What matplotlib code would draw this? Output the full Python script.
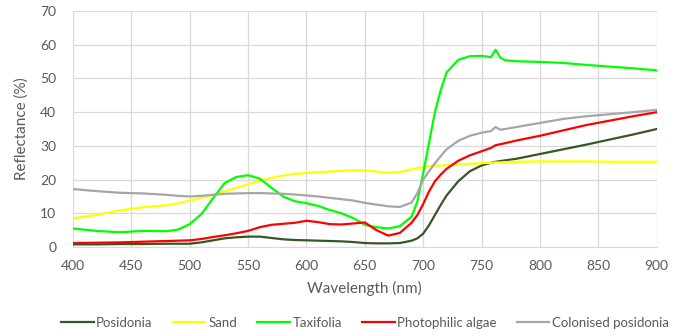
import matplotlib.pyplot as plt

wl = [400, 420, 440, 460, 480, 490, 500, 510, 520, 530, 540, 550, 560, 570, 580, 590,
      600, 610, 620, 630, 640, 650, 660, 670, 680, 690, 695, 700, 705, 710, 715, 720,
      730, 740, 750, 758, 762, 766, 770, 780, 800, 820, 840, 860, 880, 900]

posidonia = [0.8, 0.8, 0.9, 0.9, 1.0, 1.0, 1.0, 1.4, 2.0, 2.6, 2.9, 3.1, 3.1, 2.7, 2.3, 2.1,
             2.0, 1.9, 1.8, 1.7, 1.5, 1.2, 1.1, 1.1, 1.2, 1.9, 2.6, 4.0, 6.5, 9.5, 12.5, 15.3,
             19.5, 22.5, 24.2, 25.0, 25.3, 25.5, 25.7, 26.2, 27.6, 29.0, 30.4, 31.9, 33.4, 35.0]

sand = [8.5, 9.5, 10.9, 11.8, 12.4, 13.0, 13.8, 14.6, 15.5, 16.5, 17.6, 18.6, 19.7, 20.5, 21.2, 21.7,
        22.0, 22.2, 22.4, 22.6, 22.8, 22.8, 22.4, 22.0, 22.3, 23.0, 23.4, 23.8, 24.0, 24.1, 24.2, 24.3,
        24.5, 24.7, 24.9, 25.0, 25.1, 25.1, 25.2, 25.3, 25.4, 25.4, 25.4, 25.3, 25.3, 25.3]

taxifolia = [5.5, 4.8, 4.4, 4.8, 4.7, 5.2, 6.8, 9.8, 14.5, 19.0, 20.8, 21.3, 20.3, 17.6, 15.0, 13.6,
             13.0, 12.2, 11.0, 10.0, 8.6, 6.6, 5.9, 5.5, 6.2, 9.0, 13.5, 22.0, 31.0, 40.0, 46.5, 51.8,
             55.5, 56.6, 56.7, 56.3, 58.5, 56.2, 55.4, 55.1, 54.9, 54.6, 54.0, 53.5, 53.0, 52.4]

photophilic = [1.2, 1.3, 1.4, 1.6, 1.8, 1.9, 2.0, 2.4, 3.0, 3.5, 4.1, 4.8, 5.9, 6.6, 6.9, 7.2,
               7.8, 7.4, 6.8, 6.7, 7.0, 7.3, 5.0, 3.4, 4.2, 7.2, 9.5, 12.8, 16.5, 19.5, 21.5, 23.2,
               25.6, 27.2, 28.4, 29.4, 30.2, 30.5, 30.8, 31.6, 33.0, 34.6, 36.2, 37.5, 38.8, 40.0]

colonised = [17.2, 16.6, 16.1, 15.9, 15.5, 15.2, 15.0, 15.2, 15.5, 15.8, 15.9, 16.0, 16.0, 15.9, 15.8, 15.6,
             15.3, 15.0, 14.6, 14.2, 13.8, 13.1, 12.6, 12.1, 11.9, 13.2, 16.0, 20.0, 22.5, 24.8, 27.0, 29.0,
             31.5, 33.0, 33.9, 34.4, 35.6, 34.8, 35.0, 35.6, 36.8, 38.0, 38.8, 39.4, 40.0, 40.7]

series = [
    ('Posidonia', posidonia, '#375623'),
    ('Sand', sand, '#FFFF00'),
    ('Taxifolia', taxifolia, '#00FF00'),
    ('Photophilic algae', photophilic, '#FF0000'),
    ('Colonised posidonia', colonised, '#A6A6A6'),
]

plt.rcParams['font.family'] = ['Lato', 'DejaVu Sans']
text_color = '#595959'

fig = plt.figure(figsize=(6.92, 3.33), dpi=100)
ax = fig.add_axes([0.1055, 0.258, 0.8435, 0.709])

for name, values, color in series:
    ax.plot(wl, values, color=color, lw=1.6, label=name)

ax.set_xlim(400, 900)
ax.set_ylim(0, 70)
ax.set_xticks(range(400, 901, 50))
ax.set_yticks(range(0, 71, 10))
ax.grid(True, color='#D9D9D9', lw=0.9)
ax.set_axisbelow(True)
for side in ['top', 'right', 'left']:
    ax.spines[side].set_visible(False)
ax.spines['bottom'].set_color('#D9D9D9')
ax.tick_params(length=0, labelsize=10, colors=text_color, pad=9)
ax.tick_params(axis='y', pad=12)
ax.set_xlabel('Wavelength (nm)', fontsize=11, color=text_color, labelpad=7)
ax.set_ylabel('Reflectance (%)', fontsize=11, color=text_color, labelpad=8)

ax.legend(loc='upper center', bbox_to_anchor=(0.5, -0.245), ncol=5, frameon=False,
          fontsize=9.5, labelcolor=text_color, handlelength=2.5, handletextpad=0.2,
          columnspacing=1.5)

fig.savefig('out.png', dpi=100)
